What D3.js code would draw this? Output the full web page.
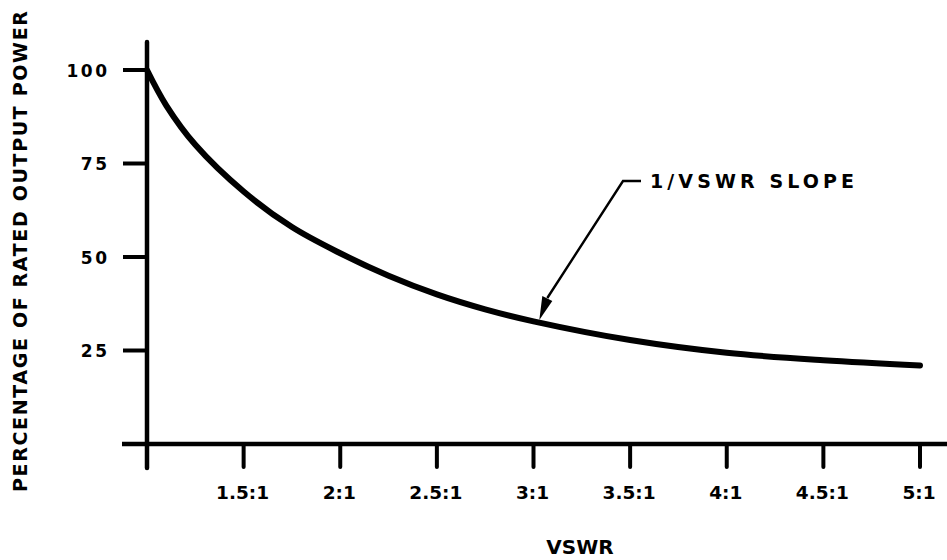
<!DOCTYPE html>
<html><head><meta charset="utf-8">
<script src="https://cdn.jsdelivr.net/npm/d3@7"></script>
<style>
html,body{margin:0;padding:0;background:#fff;}
text{font-family:"DejaVu Sans","Liberation Sans",Arial,sans-serif;font-weight:bold;fill:#000;}
</style></head>
<body><svg id="c" width="947" height="560"></svg>
<script>
const vswr = [1, 1.1, 1.25, 1.5, 1.75, 2, 2.25, 2.5, 2.75, 3, 3.5, 4, 4.5, 5];
const power = [100, 90.5, 80, 67.5, 58, 51, 45, 40, 36, 32.8, 27.8, 24.4, 22.4, 21];
const xTicks = [1, 1.5, 2, 2.5, 3, 3.5, 4, 4.5, 5];
const xTickLabels = ["", "1.5:1", "2:1", "2.5:1", "3:1", "3.5:1", "4:1", "4.5:1", "5:1"];
const yTicks = [25, 50, 75, 100];
const yTickLabels = ["25", "50", "75", "100"];
const annotation = {text: "1/VSWR SLOPE", at: 3.03};

const svg = d3.select("#c");
const x = d3.scaleLinear().domain([1, 5]).range([147, 920]);
const y = d3.scaleLinear().domain([0, 100]).range([444, 70]);

// axes lines
svg.append("line").attr("x1", 122).attr("x2", 947).attr("y1", y(0)).attr("y2", y(0))
  .attr("stroke", "#000").attr("stroke-width", 4.5);
svg.append("line").attr("x1", x(1)).attr("x2", x(1)).attr("y1", 42).attr("y2", 468)
  .attr("stroke", "#000").attr("stroke-width", 4.5).attr("stroke-linecap", "round");

// x ticks
xTicks.forEach((t, i) => {
  svg.append("line").attr("x1", x(t)).attr("x2", x(t)).attr("y1", y(0)).attr("y2", 467)
    .attr("stroke", "#000").attr("stroke-width", 4).attr("stroke-linecap", "round");
  if (xTickLabels[i]) svg.append("text").attr("x", x(t) - 1).attr("y", 499)
    .attr("text-anchor", "middle").attr("font-size", 18.5).text(xTickLabels[i]);
});
// y ticks
yTicks.forEach((t, i) => {
  svg.append("line").attr("x1", 123).attr("x2", x(1)).attr("y1", y(t)).attr("y2", y(t))
    .attr("stroke", "#000").attr("stroke-width", 4);
  svg.append("text").attr("x", 109.5).attr("y", y(t) + 6.5)
    .attr("text-anchor", "end").attr("font-size", 17).attr("letter-spacing", 2.5).text(yTickLabels[i]);
});

// axis titles
svg.append("text").attr("x", 580).attr("y", 554).attr("text-anchor", "middle")
  .attr("font-size", 20).text("VSWR");
svg.append("text").attr("transform", "translate(27,492) rotate(-90)")
  .attr("text-anchor", "start").attr("font-size", 19).attr("letter-spacing", 1.65)
  .text("PERCENTAGE OF RATED OUTPUT POWER");

// curve
const line = d3.line().x((d, i) => x(vswr[i])).y(d => y(d)).curve(d3.curveCatmullRom);
svg.append("path").attr("d", line(power)).attr("fill", "none")
  .attr("stroke", "#000").attr("stroke-width", 6).attr("stroke-linecap", "round");

// annotation
const tipX = x(annotation.at), tipY = 320;
svg.append("path").attr("d", `M641,181 L623,181 L${tipX + 8},${tipY - 22}`)
  .attr("fill", "none").attr("stroke", "#000").attr("stroke-width", 2.4);
svg.append("path").attr("d", `M${tipX},${tipY} L${tipX + 3},${tipY - 24} L${tipX + 13},${tipY - 19} Z`)
  .attr("fill", "#000");
svg.append("text").attr("x", 650).attr("y", 188).attr("font-size", 19).attr("letter-spacing", 4.1)
  .text(annotation.text);
</script></body></html>
